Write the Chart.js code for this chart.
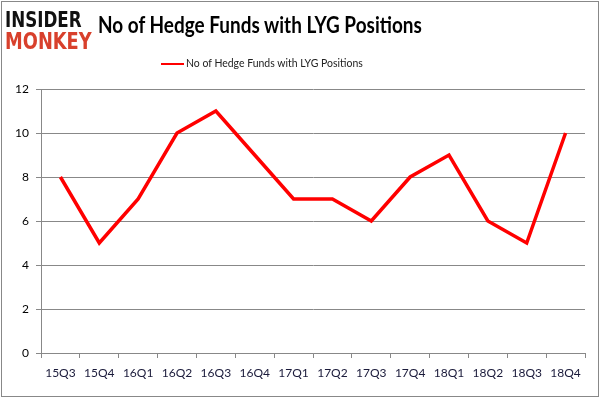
<!DOCTYPE html>
<html>
<head>
<meta charset="utf-8">
<script src="https://cdn.jsdelivr.net/npm/chart.js@4"></script>
<style>
  html, body { margin: 0; padding: 0; background: #fff; }
  #wrap { position: relative; width: 602px; height: 398px; }
  #frame { position: absolute; left: 1px; top: 1px; width: 596px; height: 394px; border: 1px solid #888; }
  canvas { position: absolute; left: 0; top: 0; }
  .logo { position: absolute; left: 5px; font-family: "DejaVu Sans Condensed", "DejaVu Sans"; font-weight: bold; transform-origin: left top; white-space: nowrap; }
  #logo1 { top: 8px; font-size: 21px; color: #111; }
  #logo2 { top: 28px; font-size: 23px; color: #d8402c; }
  #title { position: absolute; left: 98px; top: 10px; font-family: "Lato"; font-weight: bold; font-size: 23px; color: #000; white-space: nowrap; transform-origin: left top; }
  #legend { position: absolute; left: 161px; top: 55px; font-family: "Lato"; font-size: 12px; color: #222; white-space: nowrap; }
  #legend .sw { display: inline-block; width: 23px; height: 2px; background: #ff0000; vertical-align: middle; margin-right: 2px; }
  #legend .txt { display: inline-block; transform-origin: left center; }
</style>
</head>
<body>
<div id="wrap">
  <canvas id="chart" width="602" height="398"></canvas>
  <div id="frame"></div>
  <div class="logo" id="logo1">INSIDER</div>
  <div class="logo" id="logo2">MONKEY</div>
  <div id="title">No of Hedge Funds with LYG Positions</div>
  <div id="legend"><span class="sw"></span><span class="txt" id="legendText"></span></div>
</div>
<script>
const quarters = ["15Q3", "15Q4", "16Q1", "16Q2", "16Q3", "16Q4", "17Q1", "17Q2", "17Q3", "17Q4", "18Q1", "18Q2", "18Q3", "18Q4"];
const fundCounts = [8, 5, 7, 10, 11, 9, 7, 7, 6, 8, 9, 6, 5, 10];
const seriesName = "No of Hedge Funds with LYG Positions";

document.getElementById("legendText").textContent = seriesName;

// squeeze overlay texts to the widths seen in the picture
function fitWidth(id, w) {
  const el = document.getElementById(id);
  el.style.transform = "scaleX(" + (w / el.offsetWidth) + ")";
}
fitWidth("logo1", 77);
fitWidth("logo2", 87);
fitWidth("title", 324);
fitWidth("legendText", 177);

const ctx = document.getElementById("chart");
new Chart(ctx, {
  type: "line",
  data: {
    labels: quarters,
    datasets: [
      {
        label: seriesName,
        data: fundCounts,
        borderColor: "#ff0000",
        borderWidth: 3.5,
        pointRadius: 0,
        tension: 0,
        fill: false,
      },
    ],
  },
  options: {
    responsive: false,
    animation: false,
    layout: { padding: { top: 89, right: 17, left: 0, bottom: 0 } },
    plugins: { legend: { display: false }, tooltip: { enabled: false } },
    scales: {
      x: {
        offset: true,
        grid: { offset: true, drawOnChartArea: false, tickLength: 5, color: "#888" },
        border: { color: "#888" },
        ticks: { color: "#1a1a3a", padding: 8, font: { family: "Lato", size: 12 }, maxRotation: 0 },
        afterFit: (scale) => { scale.height = 45; },
      },
      y: {
        min: 0,
        max: 12,
        ticks: { stepSize: 2, color: "#000", padding: 7, font: { family: "Lato", size: 12 } },
        grid: { color: "#888", tickLength: 5 },
        border: { color: "#888" },
        afterFit: (scale) => { scale.width = 41; },
      },
    },
  },
});
</script>
</body>
</html>
